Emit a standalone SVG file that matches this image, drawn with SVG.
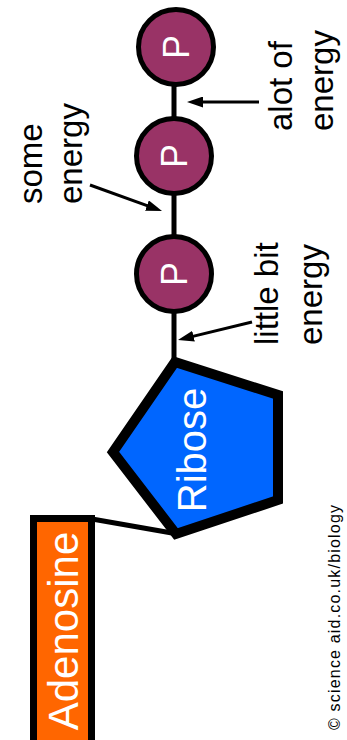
<svg xmlns="http://www.w3.org/2000/svg" width="347" height="740" viewBox="0 0 347 740">
<style>
.lbl{font-family:"Liberation Sans",Arial,sans-serif;font-size:33px;fill:#000}
.wt{font-family:"Liberation Sans",Arial,sans-serif;fill:#fff}
.p{fill:#993366;stroke:#000;stroke-width:5}
.bond{stroke:#000;stroke-width:5;fill:none}
.arr{stroke:#000;stroke-width:3;fill:none;marker-end:url(#ah)}
</style>
<defs>
<marker id="ah" markerUnits="userSpaceOnUse" markerWidth="16" markerHeight="11" viewBox="0 0 16 11" refX="6" refY="5.5" orient="auto">
<path d="M0,0 L16,5.5 L0,11 z" fill="#000"/>
</marker>
</defs>
<g id="connectors">
<line class="bond" x1="174" y1="47" x2="174" y2="365"/>
<line class="bond" x1="92" y1="519" x2="172" y2="533"/>
<line class="arr" x1="259" y1="102" x2="197" y2="102"/>
<line class="arr" x1="90" y1="185" x2="152.6" y2="207.6"/>
<line class="arr" x1="252" y1="322" x2="187.7" y2="337.6"/>
</g>
<g id="p1">
<circle class="p" cx="176" cy="47" r="37.5"/>
<text class="wt" font-size="36" text-anchor="middle" transform="translate(189,47) rotate(-90)">P</text>
</g>
<g id="p2">
<circle class="p" cx="174" cy="156" r="37.5"/>
<text class="wt" font-size="36" text-anchor="middle" transform="translate(187,156) rotate(-90)">P</text>
</g>
<g id="p3">
<circle class="p" cx="174" cy="274" r="37.5"/>
<text class="wt" font-size="36" text-anchor="middle" transform="translate(187,274) rotate(-90)">P</text>
</g>
<g id="ribose">
<polygon points="175,362 278,395 278,500 176,534 113,452" fill="#0066ff" stroke="#000" stroke-width="10" stroke-linejoin="miter"/>
<text class="wt" font-size="40" text-anchor="middle" transform="translate(206,450) rotate(-90)">Ribose</text>
</g>
<g id="adenosine">
<rect x="33.5" y="518.5" width="58" height="240" fill="#ff6600" stroke="#000" stroke-width="7"/>
<text class="wt" font-size="42" text-anchor="middle" transform="translate(78,631) rotate(-90)">Adenosine</text>
</g>
<g id="label-some">
<text class="lbl" transform="translate(42,204) rotate(-90)">some</text>
<text class="lbl" transform="translate(82,204) rotate(-90)">energy</text>
</g>
<g id="label-alot">
<text class="lbl" transform="translate(292,131) rotate(-90)">alot of</text>
<text class="lbl" transform="translate(333,131) rotate(-90)">energy</text>
</g>
<g id="label-little">
<text class="lbl" transform="translate(278,345) rotate(-90)">little bit</text>
<text class="lbl" transform="translate(322,345) rotate(-90)">energy</text>
</g>
<g id="copyright">
<text font-family="'Liberation Sans',Arial,sans-serif" font-size="16" fill="#000" textLength="225" lengthAdjust="spacing" transform="translate(340,730) rotate(-90)">© science aid.co.uk/biology</text>
</g>
</svg>
